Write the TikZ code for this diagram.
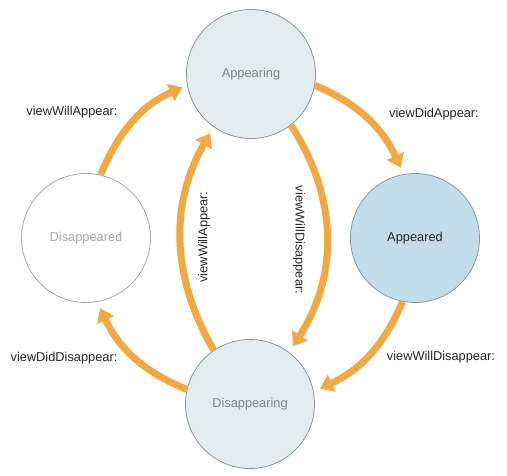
\documentclass[tikz,border=0pt]{standalone}
\usepackage{fontspec}
\setmainfont{Liberation Sans}
\usepackage{xcolor}
\usetikzlibrary{arrows.meta,positioning,calc}

\definecolor{flowor}{HTML}{F0A947}
\definecolor{paleblue}{HTML}{E3EDF0}
\definecolor{midblue}{HTML}{C2DDE9}
\definecolor{rimgrey}{HTML}{8B969B}
\definecolor{fadegrey}{HTML}{A8A8A8}

\tikzset{
  state/.style={circle,minimum size=129pt,inner sep=0pt,line width=0.8pt,
    font=\fontsize{12.8}{15}\selectfont},
  flow/.style={draw=flowor,line width=7pt,-{Triangle[width=18pt,length=13pt]},
    shorten >=7pt},
  lbl/.style={font=\fontsize{12.8}{15}\selectfont,text=black!85}
}

\begin{document}
\begin{tikzpicture}[x=1pt,y=1pt]
  \useasboundingbox (0,0) rectangle (507,475);
  % states
  \node[state,draw=rimgrey,fill=paleblue,text=rimgrey!90!black] (appearing) at (251,401) {Appearing};
  \node[state,draw=rimgrey,fill=midblue,text=black!85] (appeared) at (415,237) {Appeared};
  \node[state,draw=rimgrey,fill=paleblue,text=rimgrey!90!black] (disappearing) at (250,71) {Disappearing};
  \node[state,draw=fadegrey,fill=white,text=fadegrey] (disappeared) at (86,237) {Disappeared};
  % outer ring
  \draw[flow,shorten >=5pt] (disappeared.77) to[out=67,in=204] (appearing.190);
  \draw[flow] (appearing.350) to[out=-23,in=115] (appeared.100);
  \draw[flow] (appeared.259) to[out=-113,in=25] (disappearing.11);
  \draw[flow] (disappearing.167) to[out=158,in=295] (disappeared.280);
  % inner pair
  \draw[flow] (disappearing.124) to[out=120,in=240] (appearing.235);
  \draw[flow] (appearing.308) to[out=-57,in=57] (disappearing.53);
  % labels
  \node[lbl] (willappear) at (72,363) {viewWillAppear:};
  \node[lbl] (didappear) at (434,361) {viewDidAppear:};
  \node[lbl] (diddisappear) at (64,117) {viewDidDisappear:};
  \node[lbl] (willdisappear) at (441,118) {viewWillDisappear:};
  \node[lbl,rotate=90] (willappearin) at (204,238) {viewWillAppear:};
  \node[lbl,rotate=-90] (willdisappearin) at (299,235) {viewWillDisappear:};
\end{tikzpicture}
\end{document}
